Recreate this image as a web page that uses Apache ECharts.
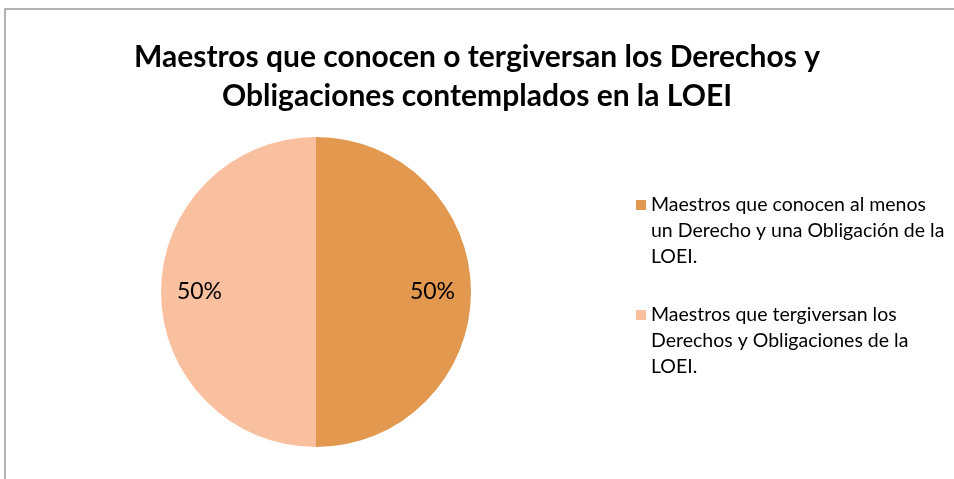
<!DOCTYPE html>
<html>
<head>
<meta charset="utf-8">
<script src="https://cdn.jsdelivr.net/npm/echarts@6/dist/echarts.min.js"></script>
<style>
  html, body { margin: 0; padding: 0; background: #fff; }
  #main { width: 954px; height: 479px; }
</style>
</head>
<body>
<div id="main"></div>
<script>
// datos del gráfico
var categorias = [
  'Maestros que conocen al menos un Derecho y una Obligación de la LOEI.',
  'Maestros que tergiversan los Derechos y Obligaciones de la LOEI.'
];
var etiquetasLeyenda = [
  'Maestros que conocen al menos\nun Derecho y una Obligación de la\nLOEI.',
  'Maestros que tergiversan los\nDerechos y Obligaciones de la\nLOEI.'
];
var valores = [50, 50];
var colores = ['#E2984F', '#F9C09F'];

var chart = echarts.init(document.getElementById('main'));

var datos = categorias.map(function (c, i) {
  return { name: c, value: valores[i], itemStyle: { color: colores[i] } };
});

var option = {
  animation: false,
  title: {
    left: 'center',
    top: 33,
    text: 'Maestros que conocen o tergiversan los Derechos y\nObligaciones contemplados en la LOEI',
    textStyle: {
      fontFamily: 'Lato',
      fontWeight: 'bold',
      fontSize: 30,
      lineHeight: 39,
      color: '#000'
    }
  },
  legend: {
    orient: 'vertical',
    left: 631,
    top: 135,
    itemWidth: 10,
    itemHeight: 10,
    itemGap: -20,
    icon: 'rect',
    data: categorias,
    // dos líneas vacías delante para que el cuadrado quede a la altura de la primera línea
    formatter: function (name) {
      return '\n\n' + etiquetasLeyenda[categorias.indexOf(name)];
    },
    textStyle: {
      fontFamily: 'Lato',
      fontSize: 19.5,
      lineHeight: 26,
      color: '#000'
    }
  },
  graphic: [{
    type: 'rect',
    shape: { x: 5, y: 9, width: 1000, height: 520 },
    style: { fill: 'none', stroke: '#9a9a9a', lineWidth: 1.5 },
    silent: true
  }],
  series: [{
    type: 'pie',
    center: [316, 292],
    radius: [0, 155],
    startAngle: 90,
    label: { show: false },
    labelLine: { show: false },
    silent: true,
    data: datos
  }, {
    // capa transparente solo para colocar los porcentajes
    type: 'pie',
    center: [316, 292],
    radius: [76, 151],
    startAngle: 90,
    silent: true,
    itemStyle: { color: 'rgba(0,0,0,0)' },
    label: {
      show: true,
      position: 'inside',
      formatter: '{d}%',
      fontFamily: 'Lato',
      fontSize: 23,
      color: '#000'
    },
    labelLine: { show: false },
    data: categorias.map(function (c, i) {
      return { name: c, value: valores[i] };
    })
  }]
};

chart.setOption(option);
</script>
</body>
</html>
